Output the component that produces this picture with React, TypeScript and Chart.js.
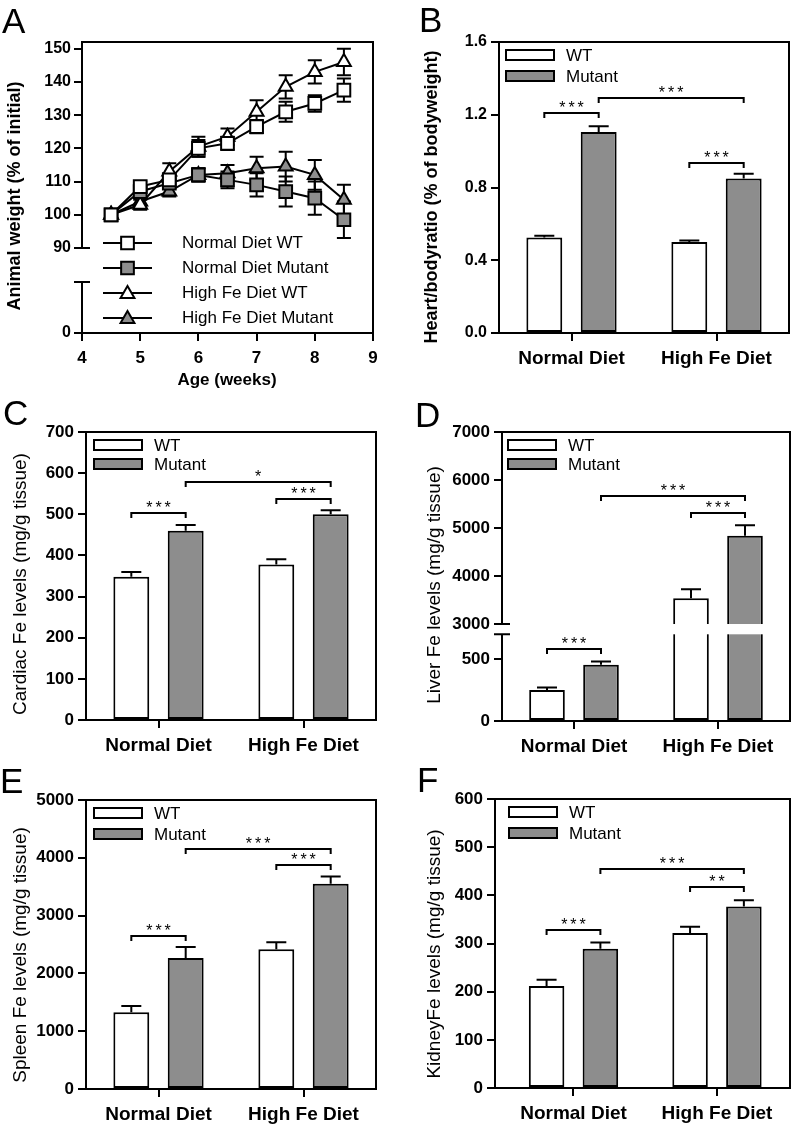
import React, { useEffect, useRef } from 'react';
import { Chart, registerables, LinearScale } from 'chart.js';

Chart.register(...registerables);

const FONT = '"Liberation Sans", Arial, Helvetica, sans-serif';
Chart.defaults.font.family = FONT;
Chart.defaults.color = '#000';

const GRAY = '#8d8d8d';
const X_AXIS_H = 36;

// ---------------- Panel A data ----------------
const weeks = [4.5, 5, 5.5, 6, 6.5, 7, 7.5, 8, 8.5];
const normalWT = [100, 108.5, 110.5, 120, 121.5, 126.5, 131, 133.5, 137.5];
const normalWTErr = [0, 1.5, 2, 2.5, 2, 2, 3, 2.5, 3.5];
const normalMutant = [100, 107, 109.5, 112, 110.5, 109, 107, 105, 98.5];
const normalMutantErr = [0, 1.5, 1.5, 2, 2.5, 3.5, 4.5, 5, 5.5];
const highFeWT = [100, 103, 113, 120.5, 123.5, 131, 138.5, 143, 146];
const highFeWTErr = [0, 1.5, 2.5, 3, 2.5, 3.5, 3.5, 3.5, 4];
const highFeMutant = [100, 104, 107, 112, 112.5, 114, 114.5, 112, 104.5];
const highFeMutantErr = [0, 1.5, 1.5, 2, 2.5, 3.5, 4.5, 4.5, 4.5];
const ageTicks = [4, 5, 6, 7, 8, 9];
const weightTicks = [0, 90, 100, 110, 120, 130, 140, 150];

// ---------------- Bar panels data ----------------
const diets = ['Normal Diet', 'High Fe Diet'];
const groups = ['WT', 'Mutant'];

const heartWT = [0.525, 0.5];
const heartWTErr = [0.01, 0.008];
const heartMutant = [1.105, 0.85];
const heartMutantErr = [0.032, 0.026];
const heartTicks = [0, 0.4, 0.8, 1.2, 1.6];
const heartTickLabels = ['0.0', '0.4', '0.8', '1.2', '1.6'];

const cardiacWT = [348, 378];
const cardiacWTErr = [12, 13];
const cardiacMutant = [460, 500];
const cardiacMutantErr = [14, 10];
const cardiacTicks = [0, 100, 200, 300, 400, 500, 600, 700];

const liverWT = [250, 3535];
const liverWTErr = [20, 190];
const liverMutant = [455, 4840];
const liverMutantErr = [25, 215];
const liverTicks = [0, 500, 3000, 4000, 5000, 6000, 7000];

const spleenWT = [1327, 2417];
const spleenWTErr = [110, 120];
const spleenMutant = [2265, 3550];
const spleenMutantErr = [190, 125];
const spleenTicks = [0, 1000, 2000, 3000, 4000, 5000];

const kidneyWT = [212, 322];
const kidneyWTErr = [13, 13];
const kidneyMutant = [289, 377];
const kidneyMutantErr = [13, 13];
const kidneyTicks = [0, 100, 200, 300, 400, 500, 600];

// significance brackets: [dataset, category] -> [dataset, category], level, label
const heartSig = [
  { from: [0, 0], to: [1, 0], y: 1.212, label: '***' },
  { from: [1, 0], to: [1, 1], y: 1.293, label: '***' },
  { from: [0, 1], to: [1, 1], y: 0.936, label: '***' },
];
const cardiacSig = [
  { from: [0, 0], to: [1, 0], y: 502, label: '***' },
  { from: [1, 0], to: [1, 1], y: 579, label: '*' },
  { from: [0, 1], to: [1, 1], y: 536, label: '***' },
];
const liverSig = [
  { from: [0, 0], to: [1, 0], y: 579, label: '***' },
  { from: [1, 0], to: [1, 1], y: 5673, label: '***' },
  { from: [0, 1], to: [1, 1], y: 5306, label: '***' },
];
const spleenSig = [
  { from: [0, 0], to: [1, 0], y: 2647, label: '***' },
  { from: [1, 0], to: [1, 1], y: 4152, label: '***' },
  { from: [0, 1], to: [1, 1], y: 3875, label: '***' },
];
const kidneySig = [
  { from: [0, 0], to: [1, 0], y: 329, label: '***' },
  { from: [1, 0], to: [1, 1], y: 455, label: '***' },
  { from: [0, 1], to: [1, 1], y: 418, label: '**' },
];

// broken-axis segments: [valueFrom, valueTo, fractionFrom, fractionTo]
const weightSegments = [
  [0, 20, 0, 0.1753],
  [90, 152, 0.2921, 1],
];
const liverSegments = [
  [0, 700, 0, 0.3],
  [3000, 7000, 0.3356, 1],
];

// ---------------- broken scale ----------------
function toDecimal(segs: number[][], v: number) {
  for (let i = 0; i < segs.length; i++) {
    const [a, b, da, db] = segs[i];
    if (v < a && i > 0) {
      const [, pb, , pdb] = segs[i - 1];
      return pdb + ((v - pb) / (a - pb)) * (da - pdb);
    }
    if (v <= b || i === segs.length - 1) return da + ((v - a) / (b - a)) * (db - da);
  }
  return 0;
}
function fromDecimal(segs: number[][], d: number) {
  for (let i = 0; i < segs.length; i++) {
    const [a, b, da, db] = segs[i];
    if (d < da && i > 0) {
      const [, pb, , pdb] = segs[i - 1];
      return pb + ((d - pdb) / (da - pdb)) * (a - pb);
    }
    if (d <= db || i === segs.length - 1) return a + ((d - da) / (db - da)) * (b - a);
  }
  return 0;
}
function registerBrokenScale(id: string, segs: number[][]) {
  const Base: any = LinearScale;
  class BrokenScale extends Base {
    static id = id;
    static defaults = {};
    getPixelForValue(value: number) {
      return (this as any).getPixelForDecimal(toDecimal(segs, value));
    }
    getValueForPixel(pixel: number) {
      return fromDecimal(segs, (this as any).getDecimalForPixel(pixel));
    }
  }
  Chart.register(BrokenScale as any);
}
registerBrokenScale('brokenWeight', weightSegments);
registerBrokenScale('brokenLiver', liverSegments);

// ---------------- drawing helpers ----------------
function drawMarker(ctx: CanvasRenderingContext2D, style: string, x: number, y: number, fill: string) {
  ctx.beginPath();
  if (style === 'rect') {
    const s = 9 * Math.SQRT1_2;
    ctx.rect(x - s, y - s, 2 * s, 2 * s);
  } else {
    const r = 8;
    const k = Math.sin((2 * Math.PI) / 3) * r;
    ctx.moveTo(x, y - r);
    ctx.lineTo(x + k, y + r / 2);
    ctx.lineTo(x - k, y + r / 2);
    ctx.closePath();
  }
  ctx.fillStyle = fill;
  ctx.fill();
  ctx.lineWidth = 2;
  ctx.strokeStyle = '#000';
  ctx.stroke();
}

function drawErrorBars(chart: any, d: any) {
  const ctx = chart.ctx;
  const ys = chart.scales.y;
  ctx.save();
  ctx.lineWidth = 2;
  ctx.strokeStyle = '#000';
  chart.data.datasets.forEach((ds: any, di: number) => {
    const meta = chart.getDatasetMeta(di);
    const errs = d.errors[di];
    meta.data.forEach((el: any, i: number) => {
      const e = errs[i];
      if (!e) return;
      const v = ds.data[i].y;
      const top = ys.getPixelForValue(v + e);
      const bot = d.kind === 'line' ? ys.getPixelForValue(v - e) : el.y;
      const c = d.cap;
      ctx.beginPath();
      ctx.moveTo(el.x, bot);
      ctx.lineTo(el.x, top);
      ctx.moveTo(el.x - c, top);
      ctx.lineTo(el.x + c, top);
      if (d.kind === 'line') {
        ctx.moveTo(el.x - c, bot);
        ctx.lineTo(el.x + c, bot);
      }
      ctx.stroke();
    });
  });
  ctx.restore();
}

function drawBrackets(chart: any, sigs: any[]) {
  const ctx = chart.ctx;
  const ys = chart.scales.y;
  ctx.save();
  ctx.lineWidth = 2;
  ctx.strokeStyle = '#000';
  ctx.fillStyle = '#000';
  for (const s of sigs) {
    const xa = chart.getDatasetMeta(s.from[0]).data[s.from[1]].x;
    const xb = chart.getDatasetMeta(s.to[0]).data[s.to[1]].x;
    const py = Math.round(ys.getPixelForValue(s.y));
    ctx.beginPath();
    ctx.moveTo(xa, py + 5);
    ctx.lineTo(xa, py);
    ctx.lineTo(xb, py);
    ctx.lineTo(xb, py + 5);
    ctx.stroke();
    ctx.font = `16px ${FONT}`;
    (ctx as any).letterSpacing = '3px';
    ctx.textAlign = 'center';
    ctx.textBaseline = 'alphabetic';
    ctx.fillText(s.label, (xa + xb) / 2 + 1.5, py);
    (ctx as any).letterSpacing = '0px';
  }
  ctx.restore();
}

function drawFrame(chart: any, segs: number[][] | null, band: boolean) {
  const ctx = chart.ctx;
  const { left, right, top, bottom } = chart.chartArea;
  const ys = chart.scales.y;
  ctx.save();
  if (segs && band) {
    const pLow = ys.getPixelForValue(segs[0][1]);
    const pHigh = ys.getPixelForValue(segs[1][0]);
    ctx.fillStyle = '#fff';
    ctx.fillRect(left + 1, pHigh, right - left - 2, pLow - pHigh);
  }
  ctx.lineWidth = 2;
  ctx.strokeStyle = '#000';
  ctx.beginPath();
  ctx.moveTo(left - 1, top);
  ctx.lineTo(right + 1, top);
  ctx.moveTo(right, top);
  ctx.lineTo(right, bottom);
  ctx.moveTo(left - 1, bottom);
  ctx.lineTo(right + 1, bottom);
  if (!segs) {
    ctx.moveTo(left, top);
    ctx.lineTo(left, bottom);
  } else {
    segs.forEach((s, i) => {
      const pa = ys.getPixelForValue(s[0]);
      const pb = ys.getPixelForValue(s[1]);
      ctx.moveTo(left, pa);
      ctx.lineTo(left, pb);
      if (i > 0) {
        ctx.moveTo(left - 8, pa);
        ctx.lineTo(left + 8, pa);
      }
      if (i < segs.length - 1) {
        ctx.moveTo(left - 8, pb);
        ctx.lineTo(left + 8, pb);
      }
    });
  }
  ctx.stroke();
  ctx.restore();
}

function drawTexts(chart: any, d: any) {
  const ctx = chart.ctx;
  ctx.save();
  ctx.fillStyle = '#000';
  const t = d.title;
  ctx.save();
  ctx.translate(t.cx - d.box.x, t.cy - d.box.y);
  ctx.rotate(-Math.PI / 2);
  ctx.font = `${t.bold ? 'bold ' : ''}${t.size}px ${FONT}`;
  ctx.textAlign = 'center';
  ctx.textBaseline = 'middle';
  ctx.fillText(t.text, 0, 0);
  ctx.restore();
  if (d.xTitle) {
    const x = d.xTitle;
    ctx.font = `bold ${x.size}px ${FONT}`;
    ctx.textAlign = 'center';
    ctx.textBaseline = 'middle';
    ctx.fillText(x.text, x.cx - d.box.x, x.cy - d.box.y);
  }
  ctx.font = `35px ${FONT}`;
  ctx.textAlign = 'left';
  ctx.textBaseline = 'alphabetic';
  ctx.fillText(d.letter.text, d.letter.x - d.box.x, d.letter.y - d.box.y);
  ctx.restore();
}

function drawBarLegend(chart: any, lg: any) {
  const ctx = chart.ctx;
  const { left, top } = chart.chartArea;
  ctx.save();
  chart.data.datasets.forEach((ds: any, i: number) => {
    const x = left + lg.dx;
    const y = top + lg.dy + i * lg.gap;
    ctx.fillStyle = ds.backgroundColor;
    ctx.fillRect(x + 1, y + 1, 48, 10);
    ctx.lineWidth = 2;
    ctx.strokeStyle = '#000';
    ctx.strokeRect(x + 1, y + 1, 48, 10);
    ctx.fillStyle = '#000';
    ctx.font = `17px ${FONT}`;
    ctx.textAlign = 'left';
    ctx.textBaseline = 'middle';
    ctx.fillText(ds.label, x + 61, y + 7);
  });
  ctx.restore();
}

function drawLineLegend(chart: any, lg: any) {
  const ctx = chart.ctx;
  ctx.save();
  chart.data.datasets.forEach((ds: any, i: number) => {
    const y = lg.rows[i] - lg.boxY;
    ctx.lineWidth = 2;
    ctx.strokeStyle = '#000';
    ctx.beginPath();
    ctx.moveTo(lg.x0, y);
    ctx.lineTo(lg.x1, y);
    ctx.stroke();
    drawMarker(ctx, ds.pointStyle, (lg.x0 + lg.x1) / 2, ds.pointStyle === 'triangle' ? y + 1 : y, ds.pointBackgroundColor);
    ctx.fillStyle = '#000';
    ctx.font = `17px ${FONT}`;
    ctx.textAlign = 'left';
    ctx.textBaseline = 'middle';
    ctx.fillText(ds.label, lg.textX, y);
  });
  ctx.restore();
}

function makeDeco(d: any) {
  return {
    id: 'deco' + d.letter.text,
    beforeDatasetsDraw(chart: any) {
      if (d.kind === 'line') drawErrorBars(chart, d);
    },
    afterDatasetsDraw(chart: any) {
      if (d.kind === 'bar') drawErrorBars(chart, d);
      drawFrame(chart, d.segments, !!d.band);
      if (d.sig) drawBrackets(chart, d.sig);
      if (d.kind === 'bar') drawBarLegend(chart, d.legend);
      else drawLineLegend(chart, d.lineLegend);
    },
    afterDraw(chart: any) {
      drawTexts(chart, d);
    },
  };
}

const gridOpts = {
  drawOnChartArea: false,
  drawTicks: true,
  tickLength: 8,
  lineWidth: 2,
  color: '#000',
  offset: false,
};

// ---------------- panel A config ----------------
const lineSeries = [
  { label: 'Normal Diet WT', values: normalWT, err: normalWTErr, style: 'rect', fill: '#fff' },
  { label: 'Normal Diet Mutant', values: normalMutant, err: normalMutantErr, style: 'rect', fill: GRAY },
  { label: 'High Fe Diet WT', values: highFeWT, err: highFeWTErr, style: 'triangle', fill: '#fff' },
  { label: 'High Fe Diet Mutant', values: highFeMutant, err: highFeMutantErr, style: 'triangle', fill: GRAY },
];

function lineConfig() {
  const box = { x: 0, y: 0, w: 398, h: 392 };
  const area = { l: 82, t: 42, r: 373, b: 333 };
  const xH = 40;
  const deco = {
    kind: 'line',
    box,
    cap: 7,
    errors: lineSeries.map((s) => s.err),
    segments: weightSegments,
    title: { text: 'Animal weight (% of initial)', cx: 15, cy: 196, bold: true, size: 18 },
    xTitle: { text: 'Age (weeks)', cx: 227, cy: 380, size: 17 },
    letter: { text: 'A', x: 2, y: 33 },
    lineLegend: { x0: 103, x1: 152, textX: 182, rows: [243, 268, 293, 318], boxY: box.y },
  };
  return {
    type: 'line',
    data: {
      datasets: lineSeries.map((s) => ({
        label: s.label,
        data: weeks.map((w, i) => ({ x: w, y: s.values[i] })),
        borderColor: '#000',
        borderWidth: 2,
        pointStyle: s.style,
        pointRadius: s.style === 'rect' ? 9 : 8,
        pointBackgroundColor: s.fill,
        pointBorderColor: '#000',
        pointBorderWidth: 2,
        tension: 0,
        fill: false,
      })),
    },
    options: {
      responsive: false,
      animation: false,
      devicePixelRatio: 1,
      layout: { padding: { left: 0, top: area.t - box.y, right: box.x + box.w - area.r, bottom: box.y + box.h - area.b - xH } },
      plugins: { legend: { display: false }, tooltip: { enabled: false } },
      scales: {
        x: {
          type: 'linear',
          min: 4,
          max: 9,
          afterBuildTicks: (s: any) => {
            s.ticks = ageTicks.map((v) => ({ value: v }));
          },
          ticks: { font: { size: 17, weight: 'bold' }, padding: 7, maxRotation: 0, autoSkip: false, callback: (v: any) => String(v) },
          grid: gridOpts,
          border: { display: false },
          afterFit: (s: any) => {
            s.height = xH;
          },
        },
        y: {
          type: 'brokenWeight',
          min: 0,
          max: 152,
          afterBuildTicks: (s: any) => {
            s.ticks = weightTicks.map((v) => ({ value: v }));
          },
          ticks: { font: { size: 16, weight: 'bold' }, padding: 3, autoSkip: false, callback: (v: any) => String(v) },
          grid: gridOpts,
          border: { display: false },
          afterFit: (s: any) => {
            s.width = area.l - box.x;
          },
        },
      },
    },
    plugins: [makeDeco(deco)],
    box,
  };
}

// ---------------- bar panels ----------------
const barPanels = [
  {
    box: { x: 398, y: 0, w: 398, h: 392 },
    area: { l: 499, t: 42, r: 789, b: 333 },
    xRange: [-0.5, 1.5],
    yType: 'linear',
    yMax: 1.6,
    ticks: heartTicks,
    tickLabels: heartTickLabels,
    tickSize: 16,
    wt: heartWT, wtErr: heartWTErr, mut: heartMutant, mutErr: heartMutantErr,
    sig: heartSig,
    title: { text: 'Heart/bodyratio (% of bodyweight)', cx: 432, cy: 197, bold: true, size: 18 },
    letter: { text: 'B', x: 419, y: 32 },
    legend: { dx: 6, dy: 7, gap: 21 },
  },
  {
    box: { x: 0, y: 392, w: 398, h: 368 },
    area: { l: 86, t: 432, r: 376, b: 720 },
    xRange: [-0.5, 1.5],
    yType: 'linear',
    yMax: 700,
    ticks: cardiacTicks,
    tickLabels: cardiacTicks.map(String),
    tickSize: 17,
    wt: cardiacWT, wtErr: cardiacWTErr, mut: cardiacMutant, mutErr: cardiacMutantErr,
    sig: cardiacSig,
    title: { text: 'Cardiac Fe levels (mg/g tissue)', cx: 21, cy: 584, bold: false, size: 19 },
    letter: { text: 'C', x: 3, y: 425 },
    legend: { dx: 7, dy: 7, gap: 19 },
  },
  {
    box: { x: 398, y: 392, w: 398, h: 368 },
    area: { l: 502, t: 432, r: 790, b: 721 },
    xRange: [-0.5, 1.5],
    yType: 'brokenLiver',
    yMax: 7000,
    segments: liverSegments,
    band: true,
    ticks: liverTicks,
    tickLabels: liverTicks.map(String),
    tickSize: 17,
    wt: liverWT, wtErr: liverWTErr, mut: liverMutant, mutErr: liverMutantErr,
    sig: liverSig,
    title: { text: 'Liver Fe levels (mg/g tissue)', cx: 435, cy: 585, bold: false, size: 19 },
    letter: { text: 'D', x: 415, y: 427 },
    legend: { dx: 5, dy: 7, gap: 19 },
  },
  {
    box: { x: 0, y: 760, w: 398, h: 367 },
    area: { l: 86, t: 800, r: 376, b: 1089 },
    xRange: [-0.5, 1.5],
    yType: 'linear',
    yMax: 5000,
    ticks: spleenTicks,
    tickLabels: spleenTicks.map(String),
    tickSize: 17,
    wt: spleenWT, wtErr: spleenWTErr, mut: spleenMutant, mutErr: spleenMutantErr,
    sig: spleenSig,
    title: { text: 'Spleen Fe levels (mg/g tissue)', cx: 21, cy: 955, bold: false, size: 19 },
    letter: { text: 'E', x: 0, y: 793 },
    legend: { dx: 7, dy: 7, gap: 21 },
  },
  {
    box: { x: 398, y: 760, w: 398, h: 367 },
    area: { l: 495, t: 799, r: 790, b: 1088 },
    xRange: [-0.547, 1.509],
    yType: 'linear',
    yMax: 600,
    ticks: kidneyTicks,
    tickLabels: kidneyTicks.map(String),
    tickSize: 17,
    wt: kidneyWT, wtErr: kidneyWTErr, mut: kidneyMutant, mutErr: kidneyMutantErr,
    sig: kidneySig,
    title: { text: 'KidneyFe levels (mg/g tissue)', cx: 435, cy: 954, bold: false, size: 19 },
    letter: { text: 'F', x: 417, y: 792 },
    legend: { dx: 13, dy: 7, gap: 21 },
  },
];

function barConfig(p: any) {
  const { box, area } = p;
  const deco = {
    kind: 'bar',
    box,
    cap: 10,
    errors: [p.wtErr, p.mutErr],
    segments: p.segments || null,
    band: p.band,
    sig: p.sig,
    title: p.title,
    letter: p.letter,
    legend: p.legend,
  };
  const ds = (label: string, values: number[], color: string) => ({
    label,
    data: values.map((v, i) => ({ x: i, y: v })),
    backgroundColor: color,
    borderColor: '#000',
    borderWidth: 2,
    borderSkipped: false,
    barPercentage: 0.66,
    categoryPercentage: 0.75,
  });
  return {
    type: 'bar',
    data: { datasets: [ds(groups[0], p.wt, '#ffffff'), ds(groups[1], p.mut, GRAY)] },
    options: {
      responsive: false,
      animation: false,
      devicePixelRatio: 1,
      layout: { padding: { left: 0, top: area.t - box.y, right: box.x + box.w - area.r, bottom: box.y + box.h - area.b - X_AXIS_H } },
      plugins: { legend: { display: false }, tooltip: { enabled: false } },
      scales: {
        x: {
          type: 'linear',
          min: p.xRange[0],
          max: p.xRange[1],
          offset: false,
          afterBuildTicks: (s: any) => {
            s.ticks = diets.map((_, i) => ({ value: i }));
          },
          ticks: { font: { size: 19, weight: 'bold' }, padding: 6, maxRotation: 0, autoSkip: false, callback: (v: any) => diets[v] ?? '' },
          grid: gridOpts,
          border: { display: false },
          afterFit: (s: any) => {
            s.height = X_AXIS_H;
          },
        },
        y: {
          type: p.yType,
          min: 0,
          max: p.yMax,
          afterBuildTicks: (s: any) => {
            s.ticks = p.ticks.map((v: number) => ({ value: v }));
          },
          ticks: { font: { size: p.tickSize, weight: 'bold' }, padding: 4, autoSkip: false, callback: (_v: any, i: number) => p.tickLabels[i] },
          grid: gridOpts,
          border: { display: false },
          afterFit: (s: any) => {
            s.width = area.l - box.x;
          },
        },
      },
    },
    plugins: [makeDeco(deco)],
    box,
  };
}

function Panel({ build }: { build: () => any }) {
  const ref = useRef<HTMLCanvasElement>(null);
  const cfg = build();
  const box = cfg.box;
  useEffect(() => {
    const c = build();
    const { box: _b, ...config } = c;
    const chart = new Chart(ref.current as HTMLCanvasElement, config as any);
    return () => chart.destroy();
  }, []);
  return (
    <canvas
      ref={ref}
      width={box.w}
      height={box.h}
      style={{ position: 'absolute', left: box.x, top: box.y, width: box.w, height: box.h }}
    />
  );
}

export default function App() {
  return (
    <div style={{ position: 'absolute', left: 0, top: 0, width: 796, height: 1127, background: '#fff', overflow: 'hidden' }}>
      <Panel build={lineConfig} />
      {barPanels.map((p, i) => (
        <Panel key={i} build={() => barConfig(p)} />
      ))}
    </div>
  );
}
